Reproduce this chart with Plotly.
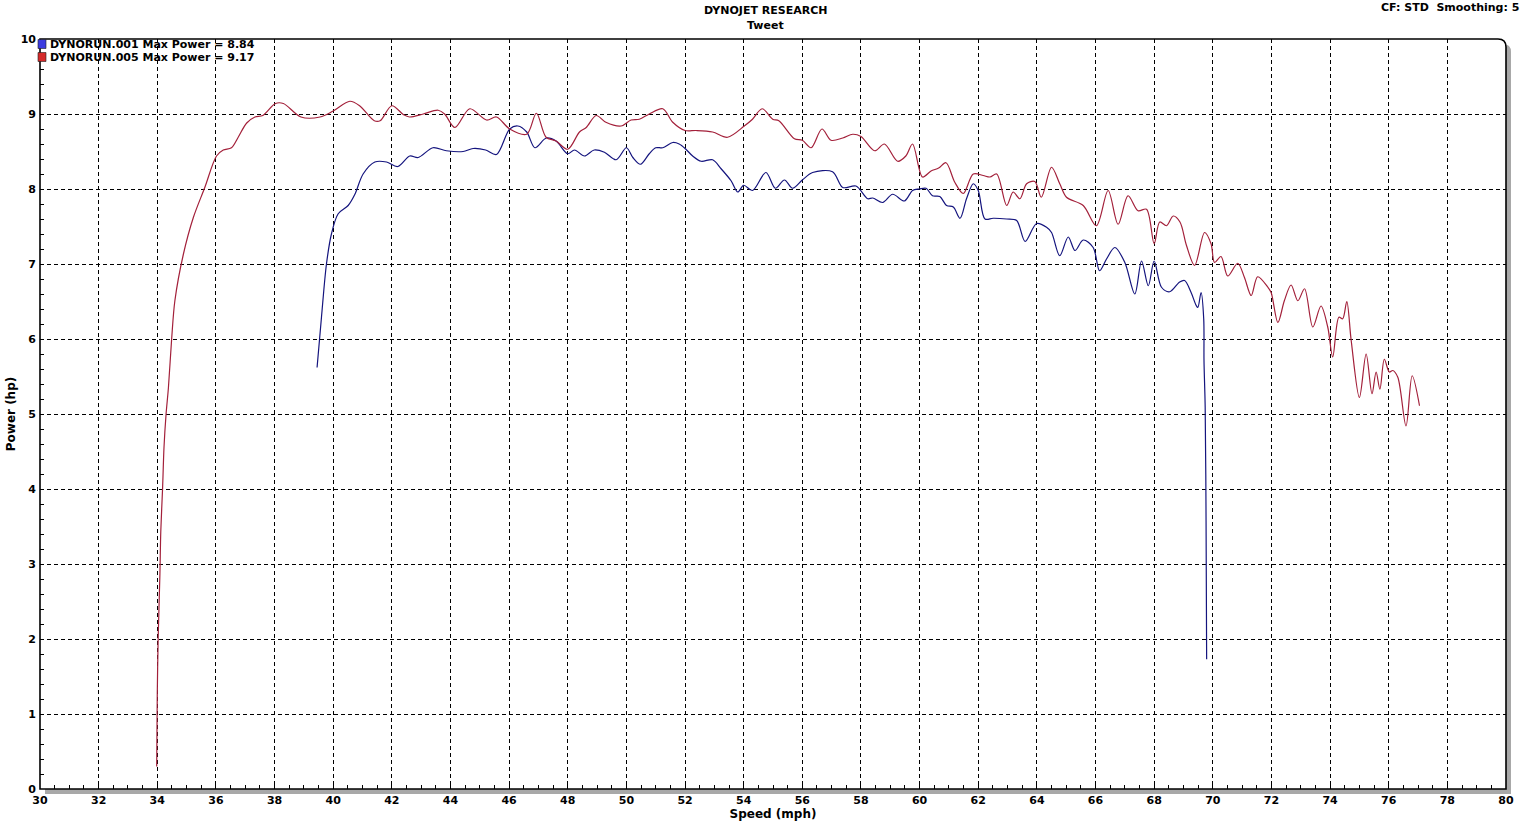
import plotly.graph_objects as go

# ---- data ----
speed_001 = [39.45, 39.6, 39.77, 39.94, 40.17, 40.51, 40.74, 41.02, 41.42, 41.82, 42.2, 42.61, 42.9,
             43.4, 43.86, 44.43, 44.77, 45.2, 45.57, 46.02, 46.3, 46.6, 46.88, 47.27, 47.6, 48.0,
             48.23, 48.57, 48.9, 49.25, 49.65, 50.0, 50.22, 50.48, 50.78, 51.0, 51.24, 51.58, 51.8,
             52.03, 52.26, 52.55, 52.94, 53.23, 53.57, 53.8, 54.0, 54.3, 54.76, 55.08, 55.39, 55.67,
             56.0, 56.35, 57.03, 57.38, 57.83, 58.23, 58.4, 58.74, 59.08, 59.48, 59.76, 59.99, 60.22,
             60.44, 60.69, 60.92, 61.15, 61.38, 61.6, 61.83, 62.0, 62.23, 62.51, 62.97, 63.31, 63.6,
             63.99, 64.33, 64.5, 64.78, 65.07, 65.3, 65.58, 65.92, 66.14, 66.38, 66.66, 67.0, 67.34,
             67.57, 67.8, 68.0, 68.25, 68.53, 68.87, 69.04, 69.26, 69.43, 69.49, 69.6, 69.69, 69.7,
             69.74, 69.77, 69.79]
power_001 = [5.62, 6.29, 7.0, 7.4, 7.67, 7.78, 7.93, 8.2, 8.36, 8.36, 8.3, 8.44, 8.42,
             8.55, 8.51, 8.5, 8.54, 8.52, 8.46, 8.80, 8.84, 8.76, 8.55, 8.68, 8.64, 8.47,
             8.52, 8.44, 8.52, 8.49, 8.39, 8.55, 8.42, 8.33, 8.47, 8.55, 8.55, 8.62, 8.6,
             8.53, 8.44, 8.37, 8.39, 8.27, 8.11, 7.96, 8.05, 7.98, 8.22, 8.01, 8.12, 8.01,
             8.12, 8.22, 8.23, 8.02, 8.04, 7.87, 7.88, 7.82, 7.93, 7.84, 7.98, 8.0, 8.01,
             7.91, 7.9, 7.78, 7.76, 7.61, 7.87, 8.07, 7.98, 7.6, 7.61, 7.6, 7.58, 7.3,
             7.54, 7.49, 7.42, 7.11, 7.36, 7.18, 7.32, 7.22, 6.91, 7.07, 7.22, 7.02, 6.6,
             7.04, 6.71, 7.04, 6.69, 6.63, 6.76, 6.78, 6.62, 6.45, 6.42, 6.62, 6.27, 5.71,
             5.09, 3.58, 1.73]

speed_005 = [33.98, 34.0, 34.03, 34.09, 34.12, 34.18, 34.23, 34.3, 34.38, 34.49, 34.6, 34.89, 35.23,
             35.62, 36.02, 36.25, 36.53, 36.76, 37.05, 37.33, 37.6, 38.03, 38.3, 38.9, 39.55, 40.0,
             40.57, 40.9, 41.4, 41.6, 42.0, 42.4, 42.6, 43.07, 43.58, 43.8, 44.15, 44.66, 45.23,
             45.57, 46.02, 46.6, 46.93, 47.26, 47.6, 48.0, 48.4, 48.63, 48.97, 49.3, 49.82, 50.16,
             50.44, 50.78, 51.24, 51.58, 52.0, 52.38, 52.94, 53.45, 54.02, 54.3, 54.63, 54.99, 55.2,
             55.73, 56.0, 56.3, 56.67, 56.98, 57.38, 57.72, 58.0, 58.47, 58.8, 59.25, 59.53, 59.76,
             60.1, 60.39, 60.65, 60.9, 61.2, 61.49, 61.83, 62.17, 62.4, 62.63, 62.97, 63.19, 63.42,
             63.65, 63.93, 64.15, 64.5, 64.78, 65.01, 65.58, 66.03, 66.43, 66.77, 67.11, 67.45,
             67.74, 68.0, 68.19, 68.42, 68.65, 68.88, 69.1, 69.38, 69.72, 69.94, 70.06, 70.28,
             70.51, 70.85, 71.08, 71.31, 71.53, 71.88, 71.99, 72.22, 72.44, 72.67, 72.9, 73.13,
             73.41, 73.69, 73.92, 74.09, 74.3, 74.43, 74.57, 74.72, 75.0, 75.23, 75.43, 75.57,
             75.7, 75.85, 76.02, 76.14, 76.31, 76.59, 76.8, 77.05]
power_005 = [0.30, 1.27, 2.0, 2.87, 3.44, 4.0, 4.56, 5.0, 5.35, 6.0, 6.51, 7.13, 7.62,
             8.02, 8.44, 8.52, 8.55, 8.69, 8.88, 8.96, 8.98, 9.14, 9.14, 8.96, 8.96, 9.04,
             9.17, 9.11, 8.91, 8.91, 9.11, 8.99, 8.96, 9.0, 9.05, 9.0, 8.82, 9.07, 8.92,
             8.96, 8.80, 8.73, 9.01, 8.69, 8.64, 8.53, 8.76, 8.82, 8.98, 8.89, 8.84, 8.92,
             8.93, 9.0, 9.07, 8.89, 8.78, 8.78, 8.76, 8.69, 8.84, 8.93, 9.07, 8.93, 8.91,
             8.67, 8.65, 8.55, 8.8, 8.65, 8.68, 8.73, 8.7, 8.51, 8.6, 8.37, 8.44, 8.6,
             8.16, 8.24, 8.28, 8.35, 8.09, 7.94, 8.2, 8.18, 8.16, 8.2, 7.78, 7.96, 7.87,
             8.07, 8.1, 7.89, 8.29, 8.07, 7.89, 7.78, 7.51, 7.98, 7.53, 7.91, 7.71,
             7.73, 7.27, 7.56, 7.51, 7.64, 7.56, 7.25, 6.98, 7.42, 7.27, 7.02, 7.1,
             6.84, 7.01, 6.82, 6.58, 6.83, 6.69, 6.62, 6.22, 6.51, 6.72, 6.51, 6.67,
             6.16, 6.44, 6.16, 5.76, 6.29, 6.27, 6.5, 5.98, 5.22, 5.8, 5.27, 5.56,
             5.33, 5.73, 5.56, 5.58, 5.49, 4.84, 5.51, 5.11]

run_names = ["DYNORUN.001 Max Power = 8.84", "DYNORUN.005 Max Power = 9.17"]
run_line_colors = ["#14147e", "#a3203a"]
run_key_colors = ["#3c3ce0", "#d42a2a"]
x_ticks = list(range(30, 81, 2))
y_ticks = list(range(0, 11, 1))
title_main = "DYNOJET RESEARCH"
title_sub = "Tweet"
corner_note = "CF: STD\u00a0\u00a0Smoothing: 5"
x_title = "Speed (mph)"
y_title = "Power (hp)"

# ---- geometry ----
W, H = 1530, 822
ML, MR, MT, MB = 40, 24, 39, 33
PW, PH = W - ML - MR, H - MT - MB

def px_x(p):  # pixel x -> paper
    return (p - ML) / PW

def px_y(p):  # pixel y -> paper
    return (H - MB - p) / PH

FONT = "DejaVu Sans"

fig = go.Figure()
for xs, ys, name, col in [(speed_001, power_001, run_names[0], run_line_colors[0]),
                          (speed_005, power_005, run_names[1], run_line_colors[1])]:
    fig.add_trace(go.Scatter(x=xs, y=ys, mode="lines", name=name,
                             line=dict(color=col, width=1.2, shape="spline", smoothing=0.9),
                             showlegend=False))

rx, ry = 8 / PW, 8 / PH
sx, sy = 5 / PW, 5 / PH
shapes = [
    # drop shadow
    dict(type="path", xref="paper", yref="paper", layer="below",
         path=f"M {sx},{-sy} L {sx},{1-sy} L {1+sx-rx},{1-sy} Q {1+sx},{1-sy} {1+sx},{1-sy-ry} L {1+sx},{-sy} Z",
         fillcolor="#a8a8a8", line=dict(width=0)),
    # plot panel with rounded top-right corner
    dict(type="path", xref="paper", yref="paper", layer="below",
         path=f"M 0,0 L 0,1 L {1-rx},1 Q 1,1 1,{1-ry} L 1,0 Z",
         fillcolor="white", line=dict(color="black", width=1.6)),
]
annotations = [
    dict(text=title_main, x=px_x(765), y=px_y(10), xref="paper", yref="paper",
         showarrow=False, xanchor="center", yanchor="middle",
         font=dict(family=FONT, size=11, color="black", weight="bold")),
    dict(text=title_sub, x=px_x(765), y=px_y(26), xref="paper", yref="paper",
         showarrow=False, xanchor="center", yanchor="middle",
         font=dict(family=FONT, size=11, color="black", weight="bold")),
    dict(text=corner_note, x=px_x(1521), y=px_y(7), xref="paper", yref="paper",
         showarrow=False, xanchor="right", yanchor="middle",
         font=dict(family=FONT, size=11, color="black", weight="bold")),
]
key_rows = [44, 57]
for name, kc, row in zip(run_names, run_key_colors, key_rows):
    annotations.append(dict(text=name, x=px_x(48), y=px_y(row), xref="paper", yref="paper",
                            showarrow=False, xanchor="left", yanchor="middle",
                            font=dict(family=FONT, size=11, color="black", weight="bold")))
    shapes.append(dict(type="rect", xref="paper", yref="paper", layer="above",
                       x0=px_x(38), x1=px_x(46), y0=px_y(row + 4.5), y1=px_y(row - 4.5),
                       fillcolor=kc, line=dict(color="#202020", width=0.6)))

fig.update_layout(
    width=W, height=H, autosize=False,
    margin=dict(l=ML, r=MR, t=MT, b=MB, pad=0),
    paper_bgcolor="white", plot_bgcolor="rgba(0,0,0,0)",
    shapes=shapes, annotations=annotations,
    xaxis=dict(range=[30, 80], tickvals=x_ticks, ticktext=[str(v) for v in x_ticks],
               showline=False, zeroline=False, showgrid=True, gridcolor="black", gridwidth=1,
               griddash="4px,3px", ticks="inside", ticklen=4, tickcolor="black",
               ticklabelstandoff=3,
               tickfont=dict(family=FONT, size=11, color="black", weight="bold"),
               minor=dict(dtick=0.5, tick0=30, ticks="inside", ticklen=4, tickcolor="black", showgrid=False),
               title=dict(text=x_title, standoff=0,
                          font=dict(family=FONT, size=12, color="black", weight="bold")),
               automargin=False, fixedrange=True),
    yaxis=dict(range=[0, 10], tickvals=y_ticks, ticktext=[str(v) for v in y_ticks],
               showline=False, zeroline=False, showgrid=True, gridcolor="black", gridwidth=1,
               griddash="4px,3px", ticks="inside", ticklen=4, tickcolor="black",
               ticklabelstandoff=3,
               tickfont=dict(family=FONT, size=11, color="black", weight="bold"),
               minor=dict(dtick=0.2, tick0=0, ticks="inside", ticklen=4, tickcolor="black", showgrid=False),
               title=dict(text=y_title, standoff=2,
                          font=dict(family=FONT, size=12, color="black", weight="bold")),
               automargin=False, fixedrange=True),
)

fig.write_html("out.html", config={"displayModeBar": False},
               post_script="document.body.style.margin='0';document.body.style.overflow='hidden';")
